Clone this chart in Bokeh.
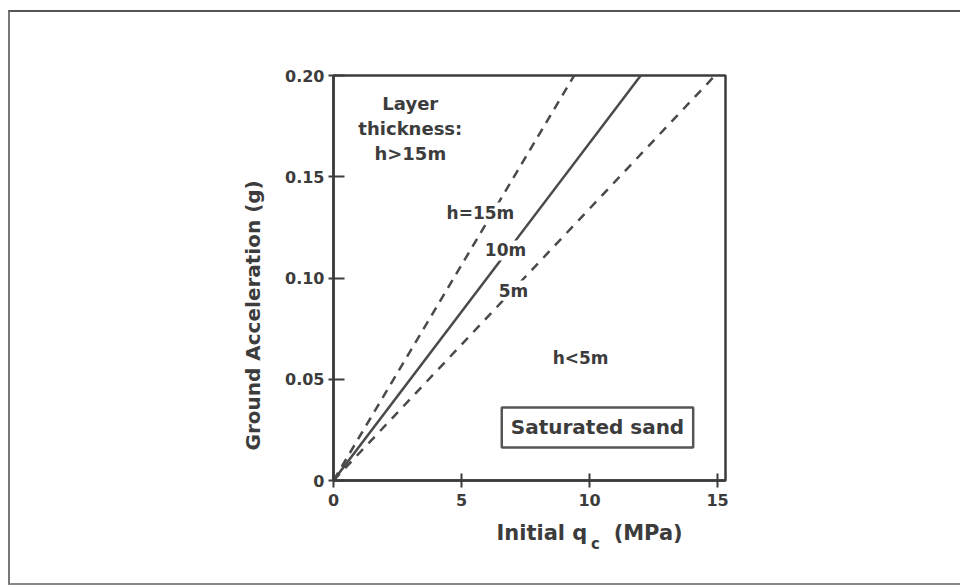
import math
from bokeh.plotting import figure
from bokeh.models import (Label, Title, FixedTicker, CustomJSTickFormatter, Range1d,
                          LinearAxis)
from bokeh.embed import file_html
from bokeh.resources import INLINE

# ---- data ----
thickness_labels = ["h=15m", "10m", "5m"]
qc_at_top = [9.4, 12.0, 14.9]      # initial qc (MPa) where each boundary reaches 0.20 g
accel_top = [0.20, 0.20, 0.20]
line_dashes = ["9 7", "solid", "9 8"]
x_ticks = [0, 5, 10, 15]
y_ticks = [0, 0.05, 0.10, 0.15, 0.20]
x_title_parts = ["Initial q", "(MPa)"]
x_title_sub = ["c"]

INK = "#3c3c3c"
FONT = "DejaVu Sans"

p = figure(width=952, height=575, output_backend="svg", toolbar_location=None,
           x_range=Range1d(0, 15.31), y_range=Range1d(0, 0.2),
           min_border_left=323, min_border_right=237, min_border_top=63,
           min_border_bottom=107, margin=(10, 0, 0, 8),
           styles={"border-left": "2px solid #777", "border-top": "2px solid #555",
                   "border-bottom": "2px solid #888"})
p.grid.visible = False
p.outline_line_color = INK
p.outline_line_width = 2.5
p.background_fill_color = "white"
p.border_fill_color = "white"

def style_axis(ax, size="16px"):
    ax.axis_line_color = INK
    ax.axis_line_width = 2.5
    ax.major_tick_line_color = INK
    ax.major_tick_line_width = 2
    ax.minor_tick_line_color = None
    ax.major_label_text_font = FONT
    ax.major_label_text_font_style = "bold"
    ax.major_label_text_color = INK
    ax.major_label_text_font_size = size

style_axis(p.xaxis[0])
style_axis(p.yaxis[0])
p.xaxis.ticker = FixedTicker(ticks=x_ticks)
p.yaxis.ticker = FixedTicker(ticks=y_ticks)
p.yaxis.formatter = CustomJSTickFormatter(code="return tick == 0 ? '0' : tick.toFixed(2);")
p.xaxis.major_tick_in = 7
p.xaxis.major_tick_out = 7
p.yaxis.major_tick_in = 11
p.yaxis.major_tick_out = 5
p.xaxis.major_label_standoff = 6
p.yaxis.major_label_standoff = 4

# boundary lines from the origin
for lab_, qc, a, dash in zip(thickness_labels, qc_at_top, accel_top, line_dashes):
    p.line(x=[0, qc], y=[0, a], line_color="#4a4a4a", line_width=2.5, line_dash=dash)

def lab(text, x, y, size="17px", align="center", bg=None, **kw):
    l = Label(x=x, y=y, text=text, text_font=FONT, text_font_style="bold",
              text_color=INK, text_font_size=size, text_align=align,
              text_baseline="middle", background_fill_color=bg, **kw)
    p.add_layout(l)
    return l

lab("Layer\nthickness:\nh>15m", 3.0, 0.1738, size="18px")
lab(thickness_labels[0], 5.74, 0.1323, bg="white")
lab(thickness_labels[1], 6.72, 0.1136, bg="white")
lab(thickness_labels[2], 7.03, 0.0938, bg="white")
lab("h<5m", 9.65, 0.0607)
lab("Saturated sand", 10.31, 0.0262, size="20px", bg="white",
    border_line_color="#555", border_line_width=2.5, padding=(9, 8))

# y-axis title (side panel)
p.add_layout(Title(text="Ground Acceleration (g)", align="left", offset=30,
                   standoff=36, text_font=FONT, text_font_style="bold",
                   text_color=INK, text_font_size="20px"), "left")

# x-axis title: text placed through extra (line-less) axes below the main one
def text_axis(positions, names, size, standoff):
    ax = LinearAxis(ticker=FixedTicker(ticks=positions),
                    formatter=CustomJSTickFormatter(args=dict(names=names),
                                                    code="return names[index];"))
    style_axis(ax, size)
    ax.axis_line_color = None
    ax.major_tick_line_color = None
    ax.major_label_standoff = standoff
    p.add_layout(ax, "below")
    return ax

text_axis([8.14, 12.29], x_title_parts, "21px", 6)
text_axis([10.23], x_title_sub, "15px", -19)

open("out.html", "w").write(file_html(p, INLINE))
